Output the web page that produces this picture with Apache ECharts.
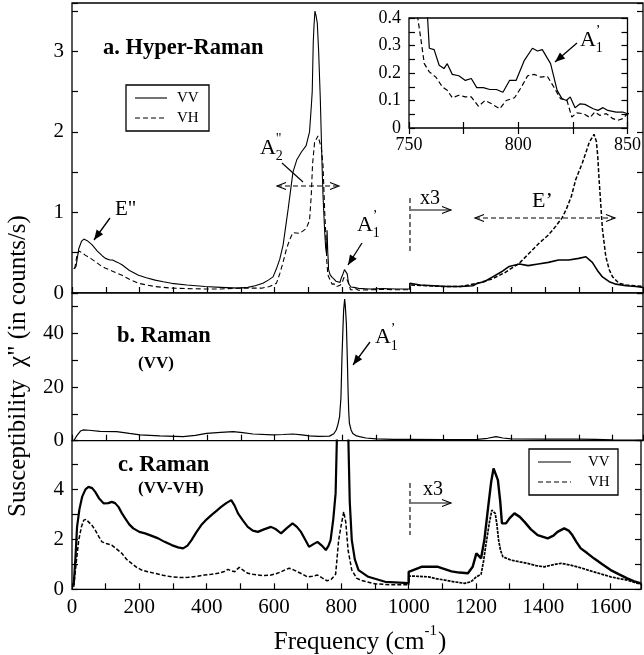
<!DOCTYPE html>
<html><head><meta charset="utf-8">
<script src="https://cdn.jsdelivr.net/npm/echarts@6/dist/echarts.min.js"></script>
<style>html,body{margin:0;padding:0;background:#fff}#c{width:644px;height:655px}</style>
</head><body><div id="c"></div>
<script>
// ---------- DATA (frequency cm-1, susceptibility) ----------
// a. Hyper-Raman, VV, 0-1000 cm-1
const hyperVV = [[5,0.3],[12,0.33],[20,0.55],[28,0.64],[35,0.67],[45,0.65],[59,0.6],[75,0.52],[90,0.46],[99,0.43],[112,0.41],[120,0.41],[135,0.38],[148,0.35],[170,0.28],[197,0.22],[220,0.19],[246,0.16],[270,0.14],[295,0.12],[340,0.1],[394,0.08],[440,0.07],[492,0.06],[520,0.07],[542,0.09],[565,0.12],[581,0.16],[595,0.2],[605,0.3],[615,0.42],[625,0.6],[640,1.05],[654,1.5],[665,1.65],[679,1.75],[693,1.83],[703,2.0],[708,2.3],[711,2.5],[714,3.1],[716,3.3],[719,3.5],[722,3.45],[726,3.35],[730,3.0],[735,2.4],[740,1.6],[743,1.2],[748,0.75],[751,0.55],[753,0.5],[755,0.78],[757,0.5],[758.5,0.4],[759.3,0.29],[761.5,0.285],[763.8,0.228],[766,0.216],[767.5,0.234],[769.8,0.195],[772.8,0.19],[775.8,0.173],[778.5,0.18],[781,0.147],[784,0.147],[787,0.14],[790,0.14],[793,0.13],[796,0.173],[799,0.173],[802.8,0.246],[806.5,0.29],[808.8,0.28],[811,0.285],[814.8,0.234],[817.8,0.137],[820,0.107],[822,0.1],[823.8,0.113],[826,0.074],[828.3,0.088],[830.5,0.086],[834.3,0.07],[836.5,0.064],[838.8,0.074],[841,0.064],[844.8,0.058],[847.8,0.058],[850,0.052],[880,0.05],[920,0.055],[960,0.05],[1000,0.05]];
// a. Hyper-Raman, VV, x3 section 1000-1690
const hyperVV_x3 = [[1000,0.12],[1030,0.1],[1070,0.09],[1110,0.08],[1150,0.08],[1186,0.09],[1200,0.12],[1220,0.14],[1245,0.2],[1270,0.26],[1294,0.33],[1324,0.36],[1350,0.34],[1380,0.36],[1410,0.38],[1440,0.41],[1470,0.41],[1500,0.43],[1521,0.45],[1540,0.38],[1555,0.28],[1570,0.2],[1590,0.14],[1610,0.11],[1640,0.09],[1669,0.08],[1690,0.07]];
// a. Hyper-Raman, VH
const hyperVH = [[8,0.3],[14,0.45],[20,0.52],[30,0.5],[39,0.47],[55,0.43],[69,0.39],[85,0.34],[98,0.31],[120,0.27],[148,0.22],[170,0.17],[197,0.12],[220,0.1],[246,0.08],[295,0.06],[340,0.055],[394,0.05],[440,0.05],[492,0.06],[530,0.06],[561,0.06],[585,0.08],[605,0.12],[615,0.24],[624,0.37],[635,0.55],[644,0.66],[654,0.75],[674,0.74],[693,0.8],[703,0.9],[708,1.2],[712,1.6],[718,1.87],[728,1.95],[732,1.93],[738,1.8],[743,1.58],[748,1.0],[751,0.75],[754,0.4],[755.5,0.32],[757,0.234],[759.3,0.204],[762.3,0.185],[765.3,0.149],[767.5,0.137],[769.8,0.11],[772.8,0.119],[775.8,0.113],[778.5,0.113],[781.8,0.079],[784.8,0.1],[787.8,0.088],[791.5,0.07],[794.5,0.1],[798.3,0.11],[801.3,0.147],[804.3,0.19],[807.3,0.195],[810.3,0.185],[813.3,0.188],[816.3,0.149],[819.3,0.107],[822.3,0.1],[824.5,0.04],[826.8,0.055],[829.8,0.052],[832.8,0.038],[835,0.058],[837.3,0.046],[840.3,0.052],[843.3,0.034],[845.5,0.028],[847.8,0.034],[850,0.052],[880,0.04],[920,0.045],[960,0.04],[1000,0.04]];
const hyperVH_x3 = [[1000,0.1],[1050,0.09],[1100,0.08],[1150,0.08],[1200,0.12],[1240,0.17],[1280,0.25],[1324,0.37],[1350,0.48],[1383,0.62],[1410,0.72],[1432,0.83],[1450,0.93],[1462,1.03],[1478,1.2],[1491,1.41],[1511,1.62],[1531,1.87],[1545,1.97],[1552,1.88],[1556,1.7],[1560,1.41],[1565,1.1],[1570,0.79],[1580,0.45],[1590,0.29],[1600,0.2],[1619,0.12],[1640,0.1],[1669,0.09],[1690,0.08]];
// b. Raman (VV)
const ramanVV = [[5,0],[15,2],[25,3.6],[33,4.0],[50,3.9],[83,3.5],[132,3.4],[170,2.7],[201,2.2],[260,1.8],[329,1.5],[365,2.0],[398,2.7],[440,3.1],[477,3.4],[505,3.0],[536,2.5],[594,2.2],[625,2.3],[654,2.5],[680,2.2],[703,1.8],[730,1.6],[762,1.7],[775,2.6],[782,4],[787,6],[792,9],[796,16],[799,31],[802,42],[804,48.7],[807,52.7],[809,50],[812,43.7],[815,30],[817,18.9],[819,11],[821,6.5],[826,4],[831,2.7],[840,1.9],[851,1.5],[870,1.0],[900,0.7],[950,0.5],[1000,0.5],[1100,0.4],[1200,0.5],[1230,0.9],[1255,1.5],[1275,1.0],[1300,0.7],[1400,0.6],[1500,0.6],[1550,0.5],[1600,0.3],[1690,0.2]];
// c. Raman (VV-VH), VV
const diffVV = [[5,0.17],[10,1.2],[15,2.5],[22,3.2],[30,3.7],[40,4.0],[49,4.1],[60,4.05],[69,3.9],[80,3.65],[94,3.44],[108,3.45],[118,3.5],[128,3.45],[138,3.3],[148,3.05],[158,2.84],[170,2.6],[182,2.44],[200,2.3],[217,2.24],[235,2.15],[256,2.04],[275,1.9],[296,1.77],[315,1.68],[330,1.64],[343,1.75],[355,1.97],[370,2.3],[384,2.57],[400,2.8],[414,2.97],[430,3.15],[443,3.3],[458,3.45],[473,3.57],[483,3.35],[493,3.04],[508,2.75],[522,2.5],[537,2.35],[552,2.3],[570,2.4],[591,2.5],[606,2.4],[621,2.24],[638,2.45],[655,2.64],[668,2.5],[680,2.3],[692,2.0],[704,1.7],[716,1.8],[729,1.9],[742,1.75],[754,1.57],[762,1.75],[768,1.97],[776,2.8],[783,3.85],[787,6.2],[795,12],[807,40],[815,14],[820,6.5],[825,3.5],[831,1.97],[840,1.2],[851,0.77],[880,0.5],[930,0.3],[1000,0.25]];
const diffVV_x3 = [[1000,0.7],[1038,0.9],[1087,0.9],[1127,0.72],[1150,0.67],[1176,0.64],[1190,0.9],[1201,1.44],[1215,1.24],[1225,2.0],[1235,3.17],[1245,4.3],[1252,4.84],[1265,4.37],[1272,3.5],[1277,2.64],[1289,2.64],[1300,2.85],[1314,3.04],[1330,2.9],[1344,2.7],[1363,2.4],[1383,2.17],[1413,2.04],[1430,2.15],[1442,2.3],[1462,2.44],[1475,2.35],[1486,2.17],[1498,1.9],[1511,1.64],[1530,1.45],[1550,1.24],[1575,1.0],[1600,0.77],[1625,0.6],[1649,0.44],[1670,0.32],[1690,0.24]];
// c. Raman (VV-VH), VH
const diffVH = [[5,0.1],[12,1.0],[20,1.97],[28,2.5],[35,2.77],[42,2.8],[49,2.7],[60,2.55],[69,2.37],[80,2.1],[89,1.9],[104,1.82],[118,1.77],[132,1.62],[148,1.44],[162,1.2],[177,1.04],[192,0.88],[207,0.77],[225,0.7],[246,0.64],[270,0.56],[296,0.5],[320,0.47],[345,0.48],[370,0.52],[394,0.57],[415,0.6],[433,0.64],[450,0.7],[463,0.8],[473,0.74],[483,0.7],[490,0.8],[497,0.88],[510,0.75],[522,0.64],[537,0.6],[552,0.57],[571,0.55],[591,0.57],[606,0.62],[621,0.7],[633,0.78],[645,0.84],[658,0.78],[670,0.7],[685,0.6],[699,0.5],[714,0.52],[729,0.57],[744,0.45],[758,0.34],[770,0.4],[783,0.6],[792,1.97],[800,2.6],[807,3.1],[813,2.7],[820,1.57],[831,0.77],[845,0.45],[860,0.35],[900,0.22],[950,0.18],[1000,0.18]];
const diffVH_x3 = [[1000,0.53],[1030,0.52],[1058,0.5],[1080,0.43],[1107,0.37],[1135,0.3],[1166,0.24],[1185,0.3],[1201,0.5],[1215,0.6],[1222,1.1],[1230,1.84],[1240,2.7],[1247,3.17],[1257,3.04],[1262,2.6],[1267,1.97],[1273,1.55],[1280,1.3],[1304,1.17],[1330,1.1],[1353,1.04],[1378,0.95],[1403,0.9],[1428,0.98],[1452,1.04],[1476,0.98],[1501,0.9],[1525,0.8],[1550,0.7],[1575,0.6],[1600,0.5],[1625,0.43],[1649,0.37],[1670,0.28],[1690,0.2]];
// tick labels
const xTickLabels = [0,200,400,600,800,1000,1200,1400,1600];
const yTickLabelsA = [0,1,2,3];
const yTickLabelsB = [0,20,40];
const yTickLabelsC = [0,2,4];
const insetXLabels = [750,800,850];
const insetYLabels = [0,0.1,0.2,0.3,0.4];

// ---------- CHART ----------
const FONT = '"Liberation Serif","Times New Roman",serif';
const chart = echarts.init(document.getElementById('c'), null, {renderer:'canvas'});
const has = (list, v) => list.some(t => Math.abs(t - v) < 1e-6);
const TICK = {show:true, inside:true, length:6, lineStyle:{color:'#000', width:1.2}};

function xAx(gi, min, max, step, labels, size, pos) {
  return {type:'value', gridIndex:gi, min, max, interval:step, position:pos||'bottom',
    axisLine:{show:false}, splitLine:{show:false}, axisTick:TICK,
    axisLabel:{show:!!labels, color:'#000', fontFamily:FONT, fontSize:size||21, margin:8,
      formatter:v => (labels && has(labels, v)) ? String(v) : ''}};
}
function yAx(gi, min, max, step, labels, size, pos, fmt) {
  return {type:'value', gridIndex:gi, min, max, interval:step, position:pos||'left',
    axisLine:{show:false}, splitLine:{show:false}, axisTick:TICK,
    axisLabel:{show:!!labels, color:'#000', fontFamily:FONT, fontSize:size||21, margin:8,
      formatter:v => (labels && has(labels, v)) ? (fmt ? fmt(v) : String(v)) : ''}};
}
function ln(data, xi, yi, dashed, width, z) {
  return {type:'line', xAxisIndex:xi, yAxisIndex:yi, data, showSymbol:false, symbol:'none',
    animation:false, silent:true, clip:true, z:z||2,
    lineStyle:{color:'#000', width:width, type:dashed ? dashed : 'solid'}};
}
const joined = (low, high) => [low[low.length-1]].concat(high);

const XMAX = 1690;
const grids = [
  {left:72, top:3, width:571, height:290},
  {left:72, top:293, width:571, height:147.7},
  {left:72, top:440.7, width:571, height:148.6},
  {left:409, top:18, width:222.5, height:110}
].map(g => Object.assign({show:true, borderColor:'#000', borderWidth:1.3, backgroundColor:'#fff'}, g));

const insetFmt = v => v === 0 ? '0' : v.toFixed(1);

const option = {
  animation:false,
  backgroundColor:'#fff',
  grid: grids,
  xAxis: [
    xAx(0, 0, XMAX, 100, null),
    xAx(1, 0, XMAX, 100, null),
    xAx(2, 0, XMAX, 100, xTickLabels, 21),
    xAx(3, 750, 850, 25, insetXLabels, 18),
    xAx(3, 750, 850, 25, null, 18, 'top')
  ],
  yAxis: [
    yAx(0, 0, 3.6, 0.5, yTickLabelsA),
    yAx(0, 0, 3.6, 0.5, null, 21, 'right'),
    yAx(1, 0, 55, 10, yTickLabelsB),
    yAx(1, 0, 55, 10, null, 21, 'right'),
    yAx(2, 0, 5.95, 1, yTickLabelsC),
    yAx(2, 0, 5.95, 1, null, 21, 'right'),
    yAx(3, 0, 0.4, 0.05, insetYLabels, 18, 'left', insetFmt),
    yAx(3, 0, 0.4, 0.05, null, 18, 'right')
  ],
  series: [
    ln(hyperVV, 0, 0, null, 1.1),
    ln(joined(hyperVV, hyperVV_x3), 0, 0, null, 1.6),
    ln(hyperVH, 0, 0, [5,3], 1.1),
    ln(joined(hyperVH, hyperVH_x3), 0, 0, [4,2], 1.5),
    ln(ramanVV, 1, 2, null, 1.2),
    ln(diffVV, 2, 4, null, 2.2),
    ln(joined(diffVV, diffVV_x3), 2, 4, null, 2.4),
    ln(diffVH, 2, 4, [4,2], 1.5),
    ln(joined(diffVH, diffVH_x3), 2, 4, [3,1], 1.7),
    ln(hyperVV, 3, 6, null, 1.2, 10),
    ln(hyperVH, 3, 6, [5,3], 1.2, 10)
  ]
};

// ---------- annotations ----------
const G = [];
function txt(t, x, y, font, align) {
  G.push({type:'text', z:100, style:{text:t, x, y, font, fill:'#000',
    align:align||'left', verticalAlign:'middle', textAlign:align||'left', textVerticalAlign:'middle'}});
}
function seg(x1,y1,x2,y2,dash,w) {
  G.push({type:'line', z:100, shape:{x1,y1,x2,y2}, style:{stroke:'#000', lineWidth:w||1.2, lineDash:dash||null}});
}
function headFilled(x1,y1,x2,y2,L,W) {
  const a = Math.atan2(y2-y1, x2-x1), c = Math.cos(a), s = Math.sin(a);
  const bx = x2 - L*c, by = y2 - L*s;
  G.push({type:'polygon', z:100, shape:{points:[[x2,y2],[bx - W*s, by + W*c],[bx + W*s, by - W*c]]}, style:{fill:'#000'}});
}
function headOpen(x1,y1,x2,y2,L,W) {
  const a = Math.atan2(y2-y1, x2-x1), c = Math.cos(a), s = Math.sin(a);
  const bx = x2 - L*c, by = y2 - L*s;
  G.push({type:'polyline', z:100, shape:{points:[[bx - W*s, by + W*c],[x2,y2],[bx + W*s, by - W*c]]}, style:{stroke:'#000', lineWidth:1.1, fill:null}});
}
function arrowFilled(x1,y1,x2,y2) { seg(x1,y1,x2,y2,null,1.3); headFilled(x1,y1,x2,y2,10,4); }
function dblDashed(x1,y,x2) { seg(x1,y,x2,y,[5,3],1.1); headOpen(x2,y,x1,y,9,3.5); headOpen(x1,y,x2,y,9,3.5); }
function aLabel(x, y, sub, sup, size) {
  txt('A', x, y, size+'px '+FONT);
  const w = size*0.72;
  txt(sub, x+w, y+size*0.38, Math.round(size*0.62)+'px '+FONT);
  txt(sup, x+w, y-size*0.38, Math.round(size*0.62)+'px '+FONT);
}

const BOLD = s => 'bold '+s+'px '+FONT;
const REG = s => s+'px '+FONT;
txt('a. Hyper-Raman', 103, 48.5, BOLD(22.5));
txt('b. Raman', 117, 336, BOLD(22.5));
txt('(VV)', 138, 364, BOLD(17));
txt('c. Raman', 118, 465, BOLD(22.5));
txt('(VV-VH)', 138, 489, BOLD(17));
txt('E"', 115, 209, REG(21));
arrowFilled(110,218,94,240);
aLabel(260, 148, '2', '"', 22);
seg(282,163,303,182,null,1.1);
dblDashed(277,186,339);
aLabel(357, 225, '1', '\u2019', 22);
arrowFilled(362,243,348,265);
seg(410,198,410,252,[5,3],1.1);
txt('x3', 420, 199, REG(20));
seg(411,210,451,210,null,1.1); headOpen(411,210,451,210,9,3.5);
txt('E\u2019', 532, 201, REG(22));
dblDashed(475,218,615);
aLabel(580, 40, '1', '\u2019', 22);
arrowFilled(577,43,555,62);
aLabel(375, 337.5, '1', '\u2019', 22);
arrowFilled(370,342,353,365);
seg(410,483,410,535,[5,3],1.1);
txt('x3', 423, 490, REG(20));
seg(411,503,451,503,null,1.1); headOpen(411,503,451,503,9,3.5);

// legends
function legend(x,y,w,h,lx1,lx2,tx,y1,y2) {
  G.push({type:'rect', z:99, shape:{x,y,width:w,height:h}, style:{fill:'#fff', stroke:'#000', lineWidth:1.3}});
  seg(lx1,y1,lx2,y1,null,1.1);
  seg(lx1,y2,lx2,y2,[5,3],1.1);
  txt('VV', tx, y1, REG(15));
  txt('VH', tx, y2, REG(15));
}
legend(126,85,83,46,135,167,177,98,118);
legend(529,449,89,46,538,571,588,462,482);

// axis titles
(function(){
  const ctx = document.createElement('canvas').getContext('2d');
  const f1 = REG(25), f2 = REG(15);
  ctx.font = f1; const wMain = ctx.measureText('Frequency (cm').width;
  ctx.font = f2; const wSup = ctx.measureText('-1').width;
  ctx.font = f1; const wClose = ctx.measureText(')').width;
  const total = wMain + wSup + wClose + 1;
  const x0 = 360 - total/2, cy = 642;
  txt('Frequency (cm', x0, cy, f1);
  txt('-1', x0 + wMain, cy - 11, f2);
  txt(')', x0 + wMain + wSup + 1, cy, f1);
  G.push({type:'text', z:100, x:18, y:366, rotation:Math.PI/2,
    style:{text:'Susceptibility  \u03c7" (in counts/s)', x:0, y:0, font:REG(25), fill:'#000',
      align:'center', verticalAlign:'middle', textAlign:'center', textVerticalAlign:'middle'}});
})();

option.graphic = {elements: G};
chart.setOption(option);
</script></body></html>
